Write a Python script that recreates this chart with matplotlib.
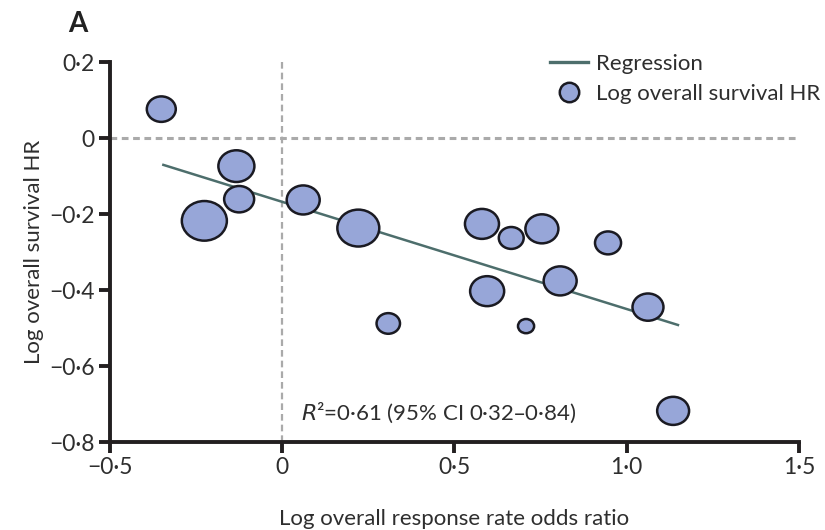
import matplotlib
matplotlib.use("Agg")
import matplotlib.pyplot as plt
from matplotlib.path import Path
from matplotlib.transforms import Affine2D
from matplotlib.lines import Line2D
from matplotlib.ticker import FuncFormatter

plt.rcParams['font.family'] = ['Lato', 'DejaVu Sans']

# log odds ratio of response rate vs log hazard ratio of overall survival, one point per trial
log_orr = [-0.351, -0.133, -0.125, -0.226, 0.061, 0.221, 0.308, 0.580,
           0.665, 0.754, 0.595, 0.807, 0.708, 0.946, 1.062, 1.135]
log_hr = [0.076, -0.074, -0.161, -0.218, -0.163, -0.237, -0.488, -0.226,
          -0.263, -0.239, -0.403, -0.376, -0.495, -0.276, -0.445, -0.718]
# trial weights (bubble area)
weight = [84, 130, 90, 203, 109, 176, 55, 116, 62, 109, 116, 109, 26, 68, 96, 102]

# fitted regression
reg_slope = -0.282
reg_intercept = -0.168
reg_x = [-0.345, 1.149]

xticks = [-0.5, 0, 0.5, 1.0, 1.5]
yticks = [-0.8, -0.6, -0.4, -0.2, 0, 0.2]

bubble_fill = '#97a6d8'
edge = '#1a1a22'
line_col = '#4d6e6c'
grid_col = '#aaaaaa'
axis_col = '#231f20'
text_col = '#2e2e2e'

fig = plt.figure(figsize=(8.25, 5.3), dpi=100)
ax = fig.add_axes([0.1333, 0.166, 0.835, 0.717])

# slightly flattened circles
oval = Path.unit_circle().transformed(Affine2D().scale(1, 0.88))

ax.axhline(0, color=grid_col, lw=2.2, ls=(0, (2.2, 1.5)), zorder=1)
ax.axvline(0, color=grid_col, lw=1.6, ls=(0, (3, 1.8)), zorder=1)

reg_y = [reg_intercept + reg_slope * x for x in reg_x]
ax.plot(reg_x, reg_y, color=line_col, lw=1.8, zorder=3)

sizes = [w * 5.18 for w in weight]
ax.scatter(log_orr, log_hr, s=sizes, marker=oval, facecolor=bubble_fill,
           edgecolor=edge, linewidths=1.8, zorder=4)

ax.set_xlim(-0.5, 1.5)
ax.set_ylim(-0.8, 0.2)
ax.set_xticks(xticks)
ax.set_yticks(yticks)

def fmt_tick(v, pos):
    if v == 0:
        return '0'
    return f'{v:.1f}'.replace('-', '\u2212').replace('.', '\u00b7')

ax.xaxis.set_major_formatter(FuncFormatter(fmt_tick))
ax.yaxis.set_major_formatter(FuncFormatter(fmt_tick))

for side in ['top', 'right']:
    ax.spines[side].set_visible(False)
for side in ['left', 'bottom']:
    ax.spines[side].set_linewidth(2.8)
    ax.spines[side].set_color(axis_col)
ax.tick_params(width=2.8, length=8, color=axis_col, labelsize=16.5,
               labelcolor=text_col, pad=3)

ax.set_xlabel('Log overall response rate odds ratio', fontsize=16,
              color=text_col, labelpad=22)
ax.set_ylabel('Log overall survival HR', fontsize=16, color=text_col,
              labelpad=4)

ax.text(0.055, -0.722, r'$R$' + '\u00b2=0\u00b761 (95% CI 0\u00b732\u20130\u00b784)',
        fontsize=16, color=text_col, va='center')

fig.text(0.083, 0.94, 'A', fontsize=20, fontweight='bold', color='#222222')

handles = [
    Line2D([], [], color=line_col, lw=2.4),
    Line2D([], [], marker='o', ls='none', markersize=14, markerfacecolor=bubble_fill,
           markeredgecolor=edge, markeredgewidth=1.8),
]
ax.legend(handles, ['Regression', 'Log overall survival HR'], loc='upper right',
          bbox_to_anchor=(1.06, 1.075), frameon=False, fontsize=16,
          handlelength=1.7, handletextpad=0.35, labelspacing=0.45, labelcolor=text_col)

fig.savefig('out.png', dpi=100)
